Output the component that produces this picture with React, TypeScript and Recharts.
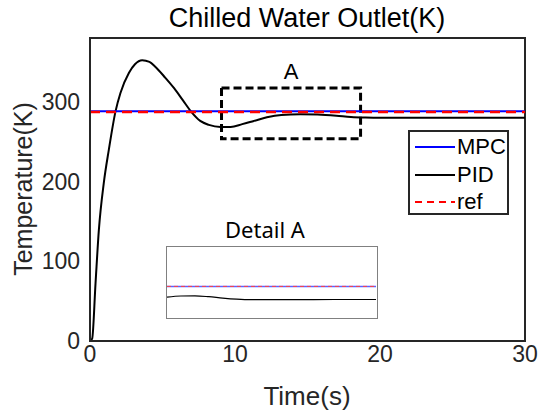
import { LineChart, Line, XAxis, YAxis, ReferenceArea, Label } from 'recharts'

// main plot: PID response vs time
const timeS = [0, 0.15, 0.38, 0.61, 0.95, 1.3, 1.76, 2.1, 2.68, 3.1, 3.6, 4.1, 4.5, 5.2, 5.8, 6.4, 7.0, 7.6, 8.2, 9.0, 9.7, 10.5, 11.3, 12.2, 13.2, 14.5, 15.7, 17.0, 18.0, 19.0, 20.0, 25.0, 30.0]
const pidK = [0, 3, 72, 139, 198, 240, 288, 311, 336, 347, 352, 350, 344, 330, 317, 302, 287, 276, 271, 268.5, 268.5, 272, 276, 280.5, 283.5, 284.5, 284, 282.5, 281, 280.3, 280, 280, 280]

// MPC and setpoint are flat
const flatTime = [0, 30]
const mpcK = [288, 288]
const refK = [287.3, 287.3]

const xTicks = [0, 10, 20, 30]
const yTicks = [0, 100, 200, 300]

// zoom box "A" (time range, temperature range)
const boxA = { t: [9.07, 18.66], k: [253.5, 317.4] }

// inset "Detail A"
const detailTime = [15, 16, 17, 18, 19, 20, 21, 24, 27, 30]
const detailPid = [281.3, 282.0, 282.1, 281.6, 280.8, 280.2, 279.9, 279.9, 280, 280]
const detailMpc = [287.5, 287.5, 287.5, 287.5, 287.5, 287.5, 287.5, 287.5, 287.5, 287.5]

const legendItems = [
  { name: 'MPC', color: '#0000ff', dash: undefined },
  { name: 'PID', color: '#000000', dash: undefined },
  { name: 'ref', color: '#ff0000', dash: '7 5' },
]

const font = '"Liberation Sans", Arial, sans-serif'
const ink = '#262626'

const pidData = timeS.map((t, i) => ({ t, v: pidK[i] }))
const mpcData = flatTime.map((t, i) => ({ t, v: mpcK[i] }))
const refData = flatTime.map((t, i) => ({ t, v: refK[i] }))
const detailData = detailTime.map((t, i) => ({ t, pid: detailPid[i], mpc: detailMpc[i] }))

const XTitle = () => (
  <text x={307} y={396} textAnchor="middle" dominantBaseline="central" fontSize={26} fill={ink} fontFamily={font}>
    Time(s)
  </text>
)

const YTitle = () => (
  <text x={23} y={189} transform="rotate(-90 23 189)" textAnchor="middle" dominantBaseline="central" fontSize={25} fill={ink} fontFamily={font}>
    Temperature(K)
  </text>
)

function Legend() {
  return (
    <div style={{ position: 'absolute', left: 408, top: 130, width: 101, height: 85, border: `2px solid ${ink}`, background: '#fff', boxSizing: 'border-box' }}>
      {legendItems.map((it, i) => (
        <div key={it.name} style={{ position: 'absolute', left: 3, top: 3 + i * 27.5, height: 24, display: 'flex', alignItems: 'center' }}>
          <svg width={42} height={24}>
            <line x1={2} y1={12} x2={42} y2={12} stroke={it.color} strokeWidth={2} strokeDasharray={it.dash} />
          </svg>
          <span style={{ fontFamily: font, fontSize: 22, color: '#000', marginLeft: 2, lineHeight: '24px' }}>{it.name}</span>
        </div>
      ))}
    </div>
  )
}

function Detail() {
  return (
    <>
      <div style={{ position: 'absolute', left: 165, top: 214, width: 200, textAlign: 'center', fontFamily: '"Noto Sans", sans-serif', fontSize: 22, color: '#000', lineHeight: '30px' }}>
        Detail A
      </div>
      <div style={{ position: 'absolute', left: 166, top: 246, width: 212, height: 73, border: '1.5px solid #808080', background: '#fff', boxSizing: 'border-box' }}>
        <LineChart width={209} height={70} data={detailData} margin={{ top: 0, right: 0, bottom: 0, left: 0 }}>
          <XAxis dataKey="t" type="number" domain={[15, 30]} hide />
          <YAxis type="number" domain={[270, 310]} hide />
          <Line dataKey="mpc" stroke="#6060ff" strokeWidth={1.5} dot={false} isAnimationActive={false} />
          <Line dataKey="mpc" stroke="#ff4040" strokeWidth={1} strokeDasharray="4 3" dot={false} isAnimationActive={false} />
          <Line type="monotone" dataKey="pid" stroke="#000" strokeWidth={1.2} dot={false} isAnimationActive={false} />
        </LineChart>
      </div>
    </>
  )
}

export default function App() {
  return (
    <div style={{ position: 'absolute', left: 0, top: 0, width: 539, height: 414, background: '#fff', fontFamily: font }}>
      <div style={{ position: 'absolute', left: 0, top: 2, width: 614, textAlign: 'center', fontSize: 27, color: '#000', lineHeight: '32px' }}>
        Chilled Water Outlet(K)
      </div>
      <div style={{ position: 'absolute', left: 0, top: 0 }}>
        <LineChart width={539} height={414} margin={{ top: 38, right: 14, bottom: 0, left: 0 }}>
          <XAxis
            dataKey="t"
            type="number"
            domain={[0, 30]}
            ticks={xTicks}
            height={73}
            tickLine={false}
            tickSize={0}
            tickMargin={5}
            axisLine={{ stroke: ink, strokeWidth: 2 }}
            tick={{ fontSize: 23, fill: ink, fontFamily: font }}
          >
            <Label content={XTitle} />
          </XAxis>
          <YAxis
            type="number"
            domain={[0, 380]}
            ticks={yTicks}
            width={90}
            tickLine={false}
            tickSize={0}
            tickMargin={10}
            axisLine={{ stroke: ink, strokeWidth: 2 }}
            tick={{ fontSize: 23, fill: ink, fontFamily: font }}
          >
            <Label content={YTitle} />
          </YAxis>
          <ReferenceArea x1={0} x2={30} y1={0} y2={380} fill="none" stroke={ink} strokeWidth={2} />
          <Line data={pidData} type="monotone" dataKey="v" stroke="#000" strokeWidth={2} dot={false} isAnimationActive={false} />
          <Line data={mpcData} dataKey="v" stroke="#0000ff" strokeWidth={2} dot={false} isAnimationActive={false} />
          <Line data={refData} dataKey="v" stroke="#ff0000" strokeWidth={2.5} strokeDasharray="10 6" dot={false} isAnimationActive={false} />
          <ReferenceArea
            x1={boxA.t[0]}
            x2={boxA.t[1]}
            y1={boxA.k[0]}
            y2={boxA.k[1]}
            fill="none"
            fillOpacity={0}
            stroke="#000"
            strokeWidth={3}
            strokeDasharray="8 4"
            ifOverflow="visible"
          >
            <Label value="A" position="top" offset={9} fontSize={22} fill="#000" fontFamily={font} />
          </ReferenceArea>
        </LineChart>
      </div>
      <Legend />
      <Detail />
    </div>
  )
}
